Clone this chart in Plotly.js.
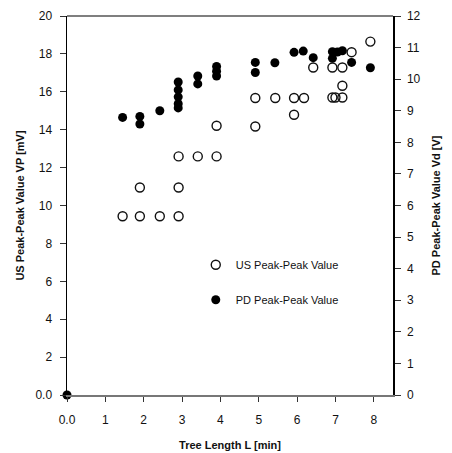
<!DOCTYPE html>
<html>
<head>
<meta charset="utf-8">
<script src="https://cdn.plot.ly/plotly-3.0.1.min.js"></script>
<style>html,body{margin:0;padding:0;background:#fff;}#chart{width:452px;height:453px;}</style>
</head>
<body>
<div id="chart"></div>
<script>
// Tree length L [min]
const usX = [1.45, 1.9, 1.9, 2.42, 2.91, 2.91, 2.91, 3.41, 3.9, 3.9, 4.91, 4.91, 5.43, 5.92, 5.92, 6.18, 6.42, 6.92, 6.92, 7.0, 7.18, 7.18, 7.18, 7.42, 7.91];
// US peak-peak value [mV]
const usY = [9.43, 10.95, 9.43, 9.43, 12.59, 10.95, 9.43, 12.59, 12.59, 14.21, 15.67, 14.17, 15.67, 15.67, 14.79, 15.67, 17.28, 15.70, 17.28, 15.70, 15.70, 16.32, 17.28, 18.09, 18.65];
// Tree length L [min]
const pdX = [0, 1.45, 1.9, 1.9, 2.42, 2.9, 2.9, 2.9, 2.9, 2.9, 3.41, 3.41, 3.9, 3.9, 3.9, 4.91, 4.91, 5.42, 5.92, 6.16, 6.42, 6.92, 6.92, 7.05, 7.18, 7.42, 7.91];
// PD peak-peak value [V]
const pdY = [0, 8.79, 8.82, 8.58, 9.00, 9.91, 9.66, 9.44, 9.22, 9.09, 10.10, 9.85, 10.40, 10.25, 10.10, 10.53, 10.21, 10.52, 10.85, 10.89, 10.68, 10.87, 10.66, 10.86, 10.90, 10.53, 10.36];

const leftTickVals = [0, 2, 4, 6, 8, 10, 12, 14, 16, 18, 20];
const leftTickText = ['0.0', '2', '4', '6', '8', '10', '12', '14', '16', '18', '20'];
const bottomTickVals = [0, 1, 2, 3, 4, 5, 6, 7, 8];
const bottomTickText = ['0.0', '1', '2', '3', '4', '5', '6', '7', '8'];

const font = {family: 'Liberation Sans, Arial, sans-serif', size: 12, color: '#111'};

const traces = [
  {x: usX, y: usY, type: 'scatter', mode: 'markers', name: 'US Peak-Peak Value',
   legendgroup: 'us', xaxis: 'x', yaxis: 'y', cliponaxis: false,
   marker: {symbol: 'circle-open', size: 9, color: '#111', line: {width: 1.4, color: '#111'}}},
  {x: pdX, y: pdY, type: 'scatter', mode: 'markers', name: 'PD Peak-Peak Value',
   legendgroup: 'pd', xaxis: 'x', yaxis: 'y2', cliponaxis: false,
   marker: {symbol: 'circle', size: 9, color: '#000'}}
];

const layout = {
  width: 452, height: 453,
  margin: {l: 67, r: 59, t: 16, b: 57.5},
  paper_bgcolor: '#fff', plot_bgcolor: '#fff',
  font: font,
  showlegend: true,
  legend: {x: 0.395, y: 0.382, xanchor: 'left', yanchor: 'top', bgcolor: 'rgba(0,0,0,0)',
           traceorder: 'grouped', tracegroupgap: 16, font: {family: font.family, size: 11, color: '#111'}},
  xaxis: {range: [0, 8.5], tickvals: bottomTickVals, ticktext: bottomTickText,
          showgrid: false, zeroline: false, showline: true, linecolor: '#777', linewidth: 1.5,
          ticks: 'outside', ticklen: 5, tickcolor: '#333', ticklabelstandoff: 8,
          title: {text: 'Tree Length L [min]', font: {family: font.family, size: 11, color: '#111', weight: 'bold'}, standoff: 15}},
  yaxis: {range: [0, 20], tickvals: leftTickVals, ticktext: leftTickText,
          showgrid: false, zeroline: false, showline: true, linecolor: '#000', linewidth: 1.5,
          ticks: 'outside', ticklen: 6, tickcolor: '#333', ticklabelstandoff: 5,
          title: {text: 'US Peak-Peak Value VP [mV]', font: {family: font.family, size: 11, color: '#111', weight: 'bold'}, standoff: 8}},
  yaxis2: {range: [0, 12], dtick: 1, overlaying: 'y', side: 'right',
           showgrid: false, zeroline: false, showline: true, linecolor: '#000', linewidth: 1.5,
           ticks: 'outside', ticklen: 6, tickcolor: '#333', ticklabelstandoff: 4,
           title: {text: 'PD Peak-Peak Value Vd [V]', font: {family: font.family, size: 11, color: '#111', weight: 'bold'}, standoff: 12}},
  shapes: [{type: 'line', xref: 'paper', yref: 'paper', x0: 0, x1: 1, y0: 1, y1: 1, line: {color: '#000', width: 1.2}}]
};

Plotly.newPlot('chart', traces, layout, {displayModeBar: false, staticPlot: true});
</script>
</body>
</html>
